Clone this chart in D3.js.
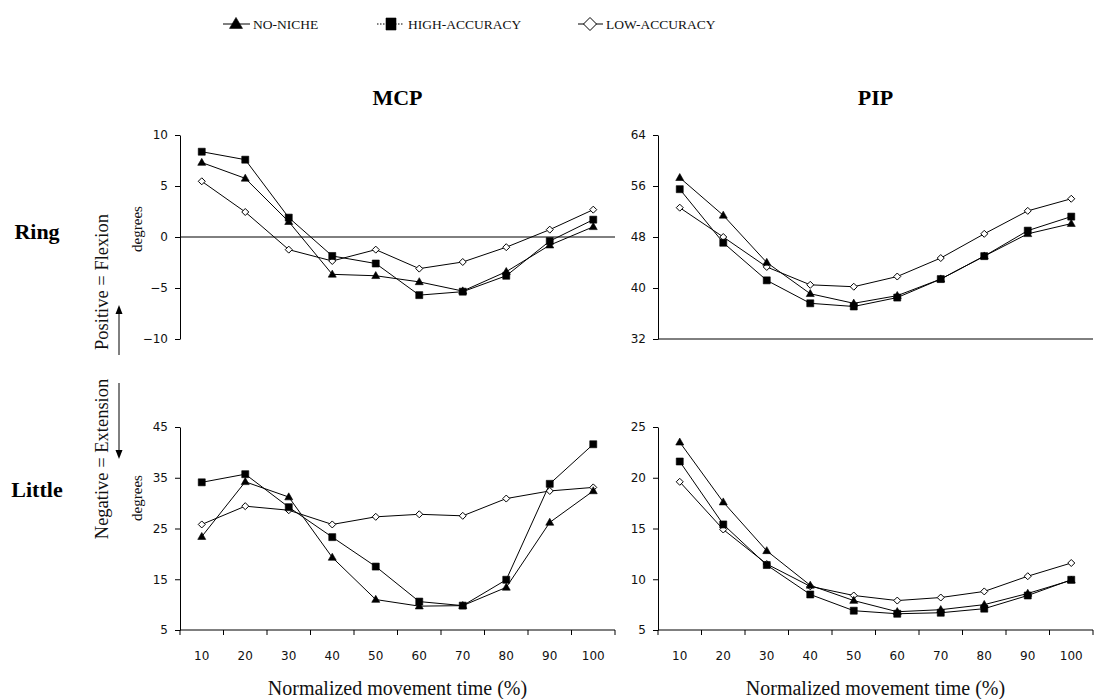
<!DOCTYPE html>
<html><head><meta charset="utf-8">
<script src="https://cdn.jsdelivr.net/npm/d3@7"></script>
<style>body{margin:0;background:#fff} svg{display:block}</style>
</head><body><svg id="chart" width="1095" height="699"></svg>
<script>
const times = [10, 20, 30, 40, 50, 60, 70, 80, 90, 100];
const seriesNames = ["NO-NICHE", "HIGH-ACCURACY", "LOW-ACCURACY"];
const jointNames = ["MCP", "PIP"];
const fingerNames = ["Ring", "Little"];

// MCP joint, ring finger (degrees)
const mcpRingNoNiche = [7.3, 5.75, 1.5, -3.66, -3.8, -4.4, -5.3, -3.4, -0.8, 1.0];
const mcpRingHigh    = [8.36, 7.58, 1.9, -1.86, -2.6, -5.7, -5.36, -3.8, -0.4, 1.7];
const mcpRingLow     = [5.46, 2.45, -1.24, -2.35, -1.24, -3.1, -2.45, -1.0, 0.72, 2.68];
// PIP joint, ring finger
const pipRingNoNiche = [57.3, 51.4, 44.0, 39.1, 37.6, 38.8, 41.4, 45.0, 48.5, 50.1];
const pipRingHigh    = [55.5, 47.1, 41.2, 37.6, 37.1, 38.5, 41.4, 45.0, 49.0, 51.2];
const pipRingLow     = [52.6, 48.0, 43.3, 40.5, 40.2, 41.8, 44.7, 48.5, 52.1, 54.0];
// MCP joint, little finger
const mcpLittleNoNiche = [23.4, 34.2, 31.2, 19.3, 11.0, 9.7, 9.8, 13.4, 26.2, 32.4];
const mcpLittleHigh    = [34.1, 35.7, 29.2, 23.3, 17.5, 10.6, 9.8, 14.9, 33.8, 41.6];
const mcpLittleLow     = [25.8, 29.4, 28.6, 25.8, 27.3, 27.8, 27.5, 30.9, 32.4, 33.1];
// PIP joint, little finger
const pipLittleNoNiche = [23.5, 17.6, 12.8, 9.4, 7.9, 6.8, 7.0, 7.5, 8.6, 9.9];
const pipLittleHigh    = [21.6, 15.4, 11.4, 8.5, 6.9, 6.6, 6.7, 7.1, 8.4, 9.95];
const pipLittleLow     = [19.6, 14.9, 11.5, 9.3, 8.4, 7.9, 8.2, 8.8, 10.3, 11.6];

const mcpRingTicks   = [-10, -5, 0, 5, 10];
const pipRingTicks   = [32, 40, 48, 56, 64];
const mcpLittleTicks = [5, 15, 25, 35, 45];
const pipLittleTicks = [5, 10, 15, 20, 25];

const svg = d3.select("#chart");
const SERIF = "'Liberation Serif','Times New Roman',serif";
const SANS = "'DejaVu Sans',Verdana,sans-serif";

// marker shapes, centred on (0,0)
function markerPath(kind, w, h) {
  if (kind === 0) return `M0,${-h * 0.6}L${w / 2},${h * 0.4}L${-w / 2},${h * 0.4}Z`;
  if (kind === 1) return `M${-w / 2},${-h / 2}H${w / 2}V${h / 2}H${-w / 2}Z`;
  return `M0,${-h / 2}L${w / 2},0L0,${h / 2}L${-w / 2},0Z`;
}
function drawMarker(g, kind, x, y, big) {
  const sz = big ? [[13, 11], [10, 12], [13, 13]][kind] : [[8, 7], [7, 7], [7, 7]][kind];
  g.append("path")
    .attr("d", markerPath(kind, sz[0], sz[1]))
    .attr("transform", `translate(${x},${y})`)
    .attr("fill", kind === 2 ? "#fff" : "#000")
    .attr("stroke", "#000")
    .attr("stroke-width", kind === 2 ? 1 : 0.6);
}

const xLeft = [180, 615], xRight = [658, 1093];
const yTop = [339, 135], yBottom = [630, 427];

const panels = [
  { xr: xLeft,  yr: yTop,    domain: [-10, 10], ticks: mcpRingTicks,   series: [mcpRingNoNiche, mcpRingHigh, mcpRingLow], zeroLine: true, xTicks: false },
  { xr: xRight, yr: yTop,    domain: [32, 64],  ticks: pipRingTicks,   series: [pipRingNoNiche, pipRingHigh, pipRingLow], zeroLine: false, xTicks: false },
  { xr: xLeft,  yr: yBottom, domain: [5, 45],   ticks: mcpLittleTicks, series: [mcpLittleNoNiche, mcpLittleHigh, mcpLittleLow], zeroLine: false, xTicks: true },
  { xr: xRight, yr: yBottom, domain: [5, 25],   ticks: pipLittleTicks, series: [pipLittleNoNiche, pipLittleHigh, pipLittleLow], zeroLine: false, xTicks: true }
];

panels.forEach(p => {
  const x = d3.scaleBand().domain(times).range(p.xr);
  const y = d3.scaleLinear().domain(p.domain).range(p.yr);
  const g = svg.append("g");

  // y axis
  const ya = g.append("g").attr("transform", `translate(${p.xr[0]},0)`)
    .call(d3.axisLeft(y).tickValues(p.ticks).tickSize(5).tickPadding(7).tickSizeOuter(0));
  ya.select(".domain").attr("stroke", "#000");
  ya.selectAll(".tick line").attr("stroke", "#000");
  ya.selectAll("text").attr("font-family", SANS).attr("font-size", 12).attr("fill", "#111");

  // category axis
  const baseY = p.zeroLine ? y(0) : y(p.domain[0]);
  g.append("line").attr("x1", p.xr[0]).attr("x2", p.xr[1]).attr("y1", baseY).attr("y2", baseY)
    .attr("stroke", "#000").attr("stroke-width", 1);
  if (p.xTicks) {
    const bounds = d3.range(times.length + 1).map(i => p.xr[0] + i * x.step());
    g.selectAll(".xt").data(bounds).join("line")
      .attr("x1", d => d).attr("x2", d => d).attr("y1", baseY).attr("y2", baseY + 5)
      .attr("stroke", "#000");
    g.selectAll(".xl").data(times).join("text")
      .attr("x", d => x(d) + x.bandwidth() / 2).attr("y", baseY + 30)
      .attr("text-anchor", "middle").attr("font-family", SANS).attr("font-size", 12).attr("fill", "#111")
      .text(d => d);
  }

  const line = d3.line().x((d, i) => x(times[i]) + x.bandwidth() / 2).y(d => y(d));
  p.series.forEach((vals, k) => {
    g.append("path").datum(vals).attr("d", line).attr("fill", "none")
      .attr("stroke", "#000").attr("stroke-width", 1);
  });
  // markers on top: low, then high, then no-niche
  [2, 1, 0].forEach(k => {
    p.series[k].forEach((v, i) => drawMarker(g, k, x(times[i]) + x.bandwidth() / 2, y(v), false));
  });
});

// column titles
svg.selectAll(".jt").data(jointNames).join("text")
  .attr("x", (d, i) => i === 0 ? (xLeft[0] + xLeft[1]) / 2 : (xRight[0] + xRight[1]) / 2)
  .attr("y", 105).attr("text-anchor", "middle")
  .attr("font-family", SERIF).attr("font-weight", "bold").attr("font-size", 22)
  .text(d => d);

// row titles
svg.selectAll(".ft").data(fingerNames).join("text")
  .attr("x", 37).attr("y", (d, i) => i === 0 ? 239 : 497).attr("text-anchor", "middle")
  .attr("font-family", SERIF).attr("font-weight", "bold").attr("font-size", 22)
  .text(d => d);

// x axis titles
[xLeft, xRight].forEach(r => {
  svg.append("text").attr("x", (r[0] + r[1]) / 2).attr("y", 695).attr("text-anchor", "middle")
    .attr("font-family", SERIF).attr("font-size", 20).attr("fill", "#111")
    .text("Normalized movement time (%)");
});

// y axis titles: "degrees"
[229, 498].forEach(cy => {
  svg.append("text").attr("transform", `translate(137,${cy}) rotate(-90)`)
    .attr("text-anchor", "middle").attr("dy", "0.32em")
    .attr("font-family", SERIF).attr("font-size", 15).attr("fill", "#111")
    .text("degrees");
});

// sign convention labels with arrows
svg.append("text").attr("transform", "translate(102,282) rotate(-90)")
  .attr("text-anchor", "middle").attr("dy", "0.32em")
  .attr("font-family", SERIF).attr("font-size", 18.5).attr("fill", "#111")
  .text("Positive = Flexion");
svg.append("text").attr("transform", "translate(102,459) rotate(-90)")
  .attr("text-anchor", "middle").attr("dy", "0.32em")
  .attr("font-family", SERIF).attr("font-size", 18.5).attr("fill", "#111")
  .text("Negative = Extension");

svg.append("line").attr("x1", 119).attr("x2", 119).attr("y1", 355).attr("y2", 312).attr("stroke", "#000").attr("stroke-width", 1);
svg.append("path").attr("d", "M119,305L115.5,314L122.5,314Z").attr("fill", "#000");
svg.append("line").attr("x1", 119).attr("x2", 119).attr("y1", 383).attr("y2", 451).attr("stroke", "#000").attr("stroke-width", 1);
svg.append("path").attr("d", "M119,459L115.5,450L122.5,450Z").attr("fill", "#000");

// legend
const legendItems = [
  { x0: 223, x1: 250, mx: 236, tx: 253 },
  { x0: 377, x1: 404, mx: 391, tx: 408 },
  { x0: 578, x1: 603, mx: 590, tx: 606 }
];
const ly = 24;
legendItems.forEach((it, k) => {
  svg.append("line").attr("x1", it.x0).attr("x2", it.x1).attr("y1", ly).attr("y2", ly)
    .attr("stroke", "#000").attr("stroke-width", 1)
    .attr("stroke-dasharray", k === 1 ? "1.5,1.5" : null);
  drawMarker(svg, k, it.mx, ly, true);
  svg.append("text").attr("x", it.tx).attr("y", ly + 4.5)
    .attr("font-family", SERIF).attr("font-size", 13.5).attr("fill", "#111")
    .text(seriesNames[k]);
});
</script>
</body></html>
